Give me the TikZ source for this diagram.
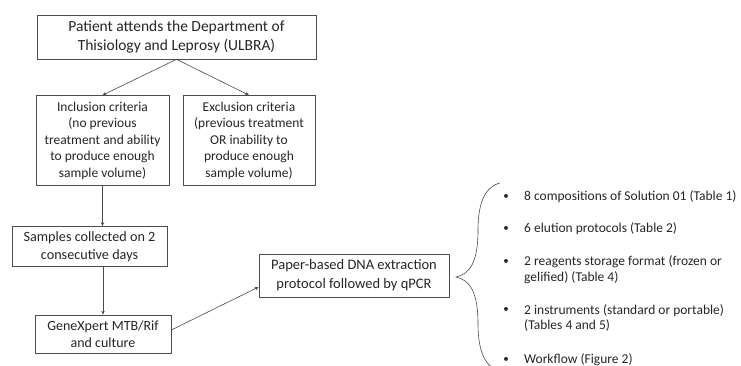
\documentclass[tikz,border=0pt]{standalone}
\usepackage{fontspec}
\setmainfont{Carlito}
\usetikzlibrary{calc,arrows.meta}
\begin{document}
\begin{tikzpicture}[x=1pt,y=-1pt,
  box/.style={draw=black!70, line width=0.7pt, align=center, inner sep=0pt, text=black!85},
  conn/.style={draw=black!70, line width=0.6pt, -{Stealth[length=4pt,width=3.5pt]}},
  item/.style={anchor=west, align=left, inner sep=0pt, text=black!85, font=\fontsize{13.5}{15.5}\selectfont},
  dot/.style={inner sep=0pt, text=black!85, font=\fontsize{11}{15}\selectfont}]
\useasboundingbox[fill=white] (0,0) rectangle (741,366);

\node[box, minimum width=279pt, minimum height=44pt, font=\fontsize{15.5}{19}\selectfont] (top) at (176.5,37)
  {Patient attends the Department of\\Thisiology and Leprosy (ULBRA)};
\node[box, minimum width=133pt, minimum height=90pt, font=\fontsize{13.5}{16.5}\selectfont] (incl) at (102.5,140.5)
  {Inclusion criteria\\(no previous\\treatment and ability\\to produce enough\\sample volume)};
\node[box, minimum width=132pt, minimum height=90pt, font=\fontsize{13.5}{16.5}\selectfont] (excl) at (249,140.5)
  {Exclusion criteria\\(previous treatment\\OR inability to\\produce enough\\sample volume)};
\node[box, minimum width=155pt, minimum height=40pt, font=\fontsize{14.2}{17.5}\selectfont] (samp) at (89.5,246.5)
  {Samples collected on 2\\consecutive days};
\node[box, minimum width=136pt, minimum height=38pt, font=\fontsize{14}{17}\selectfont] (gene) at (103,334)
  {GeneXpert MTB/Rif\\and culture};
\node[box, minimum width=190pt, minimum height=43pt, font=\fontsize{14.5}{19}\selectfont] (paper) at (354,275.5)
  {Paper-based DNA extraction\\protocol followed by qPCR};

\draw[conn] (top.south) -- (incl.north);
\draw[conn] (top.south) -- (excl.north);
\draw[conn] (incl.south) -- (incl.south |- samp.north);
\draw[conn] (samp.south -| gene.north) -- (gene.north);
\draw[conn] ($(gene.east)+(0,-4)$) -- ($(paper.west)+(0,11.5)$);

\draw[black!70, line width=0.6pt] (500,183) .. controls (484,187) and (478,205) .. (478,230)
  .. controls (478,262) and (470,274) .. (456,277)
  .. controls (470,280) and (478,292) .. (478,324)
  .. controls (478,349) and (484,367) .. (500,371);

\node[dot] (b1) at (506,197) {•};
\node[item] (t1) at (524,197) {8 compositions of Solution 01 (Table 1)};
\node[dot] (b2) at (506,229) {•};
\node[item] (t2) at (524,229) {6 elution protocols (Table 2)};
\node[dot] (b3) at (506,262) {•};
\node[item] (t3) at (524,269.5) {2 reagents storage format (frozen or\\gelified) (Table 4)};
\node[dot] (b4) at (506,310) {•};
\node[item] (t4) at (524,318) {2 instruments (standard or portable)\\(Tables 4 and 5)};
\node[dot] (b5) at (506,360) {•};
\node[item] (t5) at (524,360) {Workflow (Figure 2)};
\end{tikzpicture}
\end{document}
